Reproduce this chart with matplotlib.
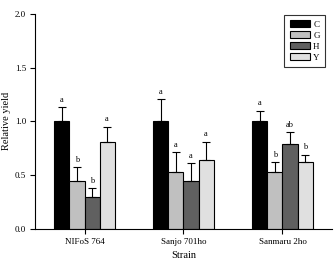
import matplotlib
matplotlib.use("Agg")
import matplotlib.pyplot as plt
import numpy as np

strains = ["NIFoS 764", "Sanjo 701ho", "Sanmaru 2ho"]
series = ["C", "G", "H", "Y"]
means = {
    "C": [1.00, 1.00, 1.00],
    "G": [0.44, 0.53, 0.53],
    "H": [0.29, 0.44, 0.79],
    "Y": [0.81, 0.64, 0.62],
}
errs = {
    "C": [0.13, 0.21, 0.10],
    "G": [0.13, 0.18, 0.09],
    "H": [0.09, 0.17, 0.11],
    "Y": [0.14, 0.17, 0.07],
}
letters = {
    "C": ["a", "a", "a"],
    "G": ["b", "a", "b"],
    "H": ["b", "a", "ab"],
    "Y": ["a", "a", "b"],
}
colors = {"C": "#000000", "G": "#c0c0c0", "H": "#606060", "Y": "#e0e0e0"}

plt.rcParams['font.family'] = ['Liberation Serif', 'DejaVu Serif']

fig = plt.figure(figsize=(3.35, 2.61), dpi=100)
ax = fig.add_axes([0.1045, 0.1245, 0.8865, 0.8215])

x = np.arange(len(strains))
w = 0.152
for i, s in enumerate(series):
    pos = x + (i - 1.5) * w
    ax.bar(pos, means[s], w, color=colors[s], edgecolor="black", linewidth=0.8, label=s, zorder=2)
    ax.errorbar(pos, means[s], yerr=[np.zeros(3), errs[s]], fmt="none", ecolor="black",
                elinewidth=0.8, capsize=2.8, capthick=0.8, zorder=3)
    for p, m, e, l in zip(pos, means[s], errs[s], letters[s]):
        ax.text(p, m + e + 0.03, l, ha="center", va="bottom", fontsize=6)

ax.set_xlim(-0.5, 2.5)
ax.set_ylim(0, 2.0)
ax.set_yticks([0.0, 0.5, 1.0, 1.5, 2.0])
ax.set_yticklabels(["0.0", "0.5", "1.0", "1.5", "2.0"])
ax.set_xticks(x)
ax.set_xticklabels(strains)
ax.tick_params(axis="both", labelsize=6.5, length=3.5, width=0.8, direction="out", pad=3)
for sp in ["top", "right"]:
    ax.spines[sp].set_visible(False)
for sp in ["left", "bottom"]:
    ax.spines[sp].set_linewidth(0.8)
ax.set_xlabel("Strain", fontsize=7.5, labelpad=4)
ax.set_ylabel("Relative yield", fontsize=7.5, labelpad=3)

leg = ax.legend(loc="upper right", bbox_to_anchor=(0.98, 1.0), fontsize=6.5, frameon=True, fancybox=False,
                edgecolor="black", handlelength=2.2, handleheight=0.7, labelspacing=0.3,
                handletextpad=0.4, borderpad=0.6, borderaxespad=0.1)
leg.get_frame().set_linewidth(0.8)

fig.savefig("out.png", dpi=100)
